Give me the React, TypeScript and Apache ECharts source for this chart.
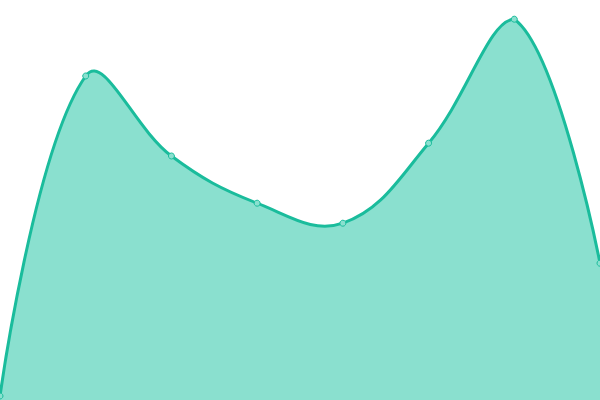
import React, { useEffect, useRef } from 'react'
import * as echarts from 'echarts'

const categories = ['A', 'B', 'C', 'D', 'E', 'F', 'G', 'H']
const values = [10, 810, 610, 492, 442, 642, 952, 342]

const SMOOTH = 0.4

// bezier through the points, control points kept inside the points' bounding box
function smoothPath(pts: number[][]) {
  const xs = pts.map((p) => p[0])
  const ys = pts.map((p) => p[1])
  const min = [Math.min(...xs), Math.min(...ys)]
  const max = [Math.max(...xs), Math.max(...ys)]
  const clamp = (c: number[]) => [
    Math.max(min[0], Math.min(max[0], c[0])),
    Math.max(min[1], Math.min(max[1], c[1]))
  ]
  let d = `M${pts[0][0]},${pts[0][1]}`
  let cp0 = [pts[0][0], pts[0][1]]
  for (let i = 1; i < pts.length; i++) {
    const p = pts[i]
    const prev = pts[i - 1]
    const next = pts[i + 1]
    let cp1 = [p[0], p[1]]
    let v = [0, 0]
    let ratio = 0.5
    if (next) {
      v = [next[0] - prev[0], next[1] - prev[1]]
      const lp = Math.hypot(p[0] - prev[0], p[1] - prev[1])
      const ln = Math.hypot(next[0] - p[0], next[1] - p[1])
      ratio = ln / (ln + lp)
      cp1 = [p[0] - v[0] * SMOOTH * (1 - ratio), p[1] - v[1] * SMOOTH * (1 - ratio)]
    }
    const a = clamp(cp0)
    const b = clamp(cp1)
    d += ` C${a[0]},${a[1]} ${b[0]},${b[1]} ${p[0]},${p[1]}`
    cp0 = [p[0] + v[0] * SMOOTH * ratio, p[1] + v[1] * SMOOTH * ratio]
  }
  return d
}

export default function App() {
  const chartRef: any = useRef()

  useEffect(() => {
    document.body.style.margin = '0'
    const myChart = echarts.init(chartRef.current, null, { renderer: 'svg' })
    const option = {
      animation: false,
      grid: { top: 0, bottom: 0, left: 0, right: 0 },
      xAxis: {
        type: 'category',
        data: categories,
        boundaryGap: false,
        show: false
      },
      yAxis: {
        type: 'value',
        min: 0,
        max: 1000,
        show: false
      },
      series: [
        {
          type: 'custom',
          clip: false,
          data: values.map((v, i) => [i, v]),
          renderItem: (params: any, api: any) => {
            if (params.dataIndex !== 0) return null
            const pts = values.map((v, i) => api.coord([i, v]))
            const base = api.coord([0, 0])[1]
            const line = smoothPath(pts)
            const last = pts[pts.length - 1]
            const area = `${line} L${last[0]},${base} L${pts[0][0]},${base} Z`
            return {
              type: 'group',
              children: [
                {
                  type: 'path',
                  shape: { pathData: area },
                  style: { fill: '#8ae0cf', stroke: 'none' }
                },
                {
                  type: 'path',
                  shape: { pathData: line },
                  style: { fill: 'none', stroke: '#1abc9c', lineWidth: 3 }
                }
              ]
            }
          }
        },
        {
          type: 'scatter',
          data: values,
          symbol: 'circle',
          symbolSize: 6,
          z: 5,
          itemStyle: { color: '#8ae0cf', borderColor: '#1abc9c', borderWidth: 1, opacity: 1 }
        }
      ]
    }
    myChart.setOption(option)
    return () => {
      myChart.dispose()
    }
  }, [])

  return <div ref={chartRef} style={{ width: '600px', height: '400px' }} />
}
